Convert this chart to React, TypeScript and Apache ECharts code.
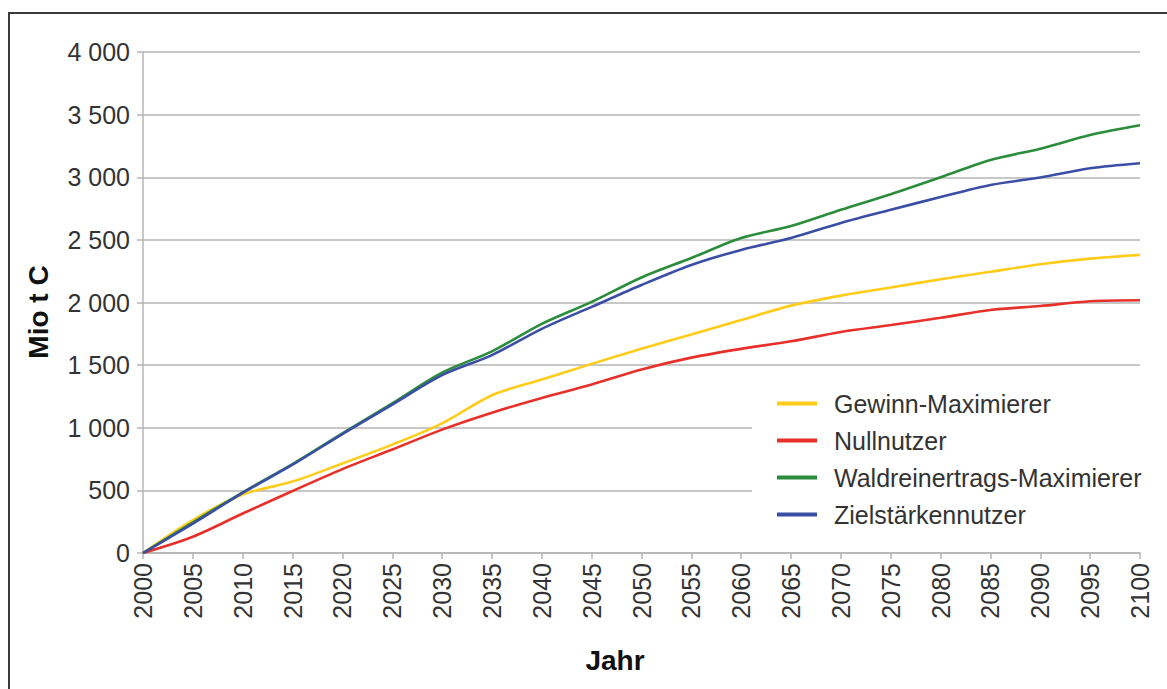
import React, { useEffect, useRef } from "react";
import * as echarts from "echarts";

const years = ["2000","2005","2010","2015","2020","2025","2030","2035","2040","2045","2050","2055","2060","2065","2070","2075","2080","2085","2090","2095","2100"];
const seriesNames = ["Gewinn-Maximierer", "Nullnutzer", "Waldreinertrags-Maximierer", "Zielstärkennutzer"];
const gewinn = [0, 263, 467, 570, 715, 865, 1035, 1260, 1385, 1510, 1630, 1745, 1860, 1975, 2055, 2120, 2185, 2245, 2305, 2350, 2380];
const nullnutzer = [0, 130, 315, 495, 670, 826, 985, 1120, 1238, 1345, 1465, 1560, 1630, 1690, 1765, 1820, 1878, 1940, 1972, 2010, 2018];
const wald = [0, 245, 485, 710, 955, 1195, 1440, 1610, 1830, 2005, 2200, 2355, 2515, 2610, 2740, 2865, 3000, 3138, 3228, 3337, 3415];
const ziel = [0, 235, 480, 705, 950, 1185, 1420, 1580, 1790, 1965, 2140, 2300, 2420, 2515, 2635, 2740, 2842, 2938, 2998, 3072, 3112];
const colors = ["#FFCC1A", "#E8302A", "#2B8C3C", "#3B4EA6"];

const FONT = "'Liberation Sans', Arial, sans-serif";

export default function App() {
  const ref = useRef<HTMLDivElement>(null);
  useEffect(() => {
    if (!ref.current) return;
    const chart = echarts.init(ref.current, null, { renderer: "svg" });
    const dataSets = [gewinn, nullnutzer, wald, ziel];
    chart.setOption({
      animation: false,
      backgroundColor: "#ffffff",
      grid: { left: 143, right: 27, top: 52, bottom: 136, containLabel: false },
      xAxis: {
        type: "category",
        data: years,
        boundaryGap: false,
        axisLine: { lineStyle: { color: "#b4b4b4", width: 1.5 } },
        axisTick: { show: true, length: 6, alignWithLabel: true, lineStyle: { color: "#b4b4b4", width: 1.5 } },
        axisLabel: { rotate: 90, margin: 10, color: "#333", fontSize: 25, fontFamily: FONT, interval: 0 },
        splitLine: { show: false },
      },
      yAxis: {
        type: "value",
        min: 0,
        max: 4000,
        interval: 500,
        axisLine: { show: true, lineStyle: { color: "#b4b4b4", width: 1.5 } },
        axisTick: { show: true, length: 6, lineStyle: { color: "#b4b4b4", width: 1.5 } },
        axisLabel: {
          margin: 13,
          color: "#333",
          fontSize: 25,
          fontFamily: FONT,
          formatter: (v: number) => {
            const s = String(Math.round(v));
            return s.length > 3 ? s.slice(0, s.length - 3) + " " + s.slice(-3) : s;
          },
        },
        splitLine: { show: true, lineStyle: { color: "#b4b4b4", width: 1.5 } },
      },
      legend: {
        orient: "vertical",
        left: 752,
        top: 378,
        padding: [13, 20, 13, 25],
        backgroundColor: "#ffffff",
        itemWidth: 40,
        itemHeight: 4,
        itemGap: 12,
        icon: "rect",
        data: seriesNames,
        textStyle: { fontSize: 25, color: "#333", fontFamily: FONT, padding: [0, 0, 0, 12] },
      },
      series: seriesNames.map((name, i) => ({
        name,
        type: "line",
        data: dataSets[i],
        smooth: 0.3,
        symbol: "none",
        lineStyle: { color: colors[i], width: 2.6 },
        itemStyle: { color: colors[i] },
      })),
      graphic: [
        {
          type: "rect",
          shape: { x: 9, y: 13, width: 1200, height: 700 },
          style: { fill: "none", stroke: "#3a3a3a", lineWidth: 2 },
          silent: true,
          z: 100,
        },
        {
          type: "text",
          x: 38,
          y: 312,
          rotation: Math.PI / 2,
          style: { text: "Mio t C", fontSize: 28, fontWeight: "bold", fontFamily: FONT, fill: "#111", align: "center", verticalAlign: "middle" },
        },
        {
          type: "text",
          x: 615,
          y: 660,
          style: { text: "Jahr", fontSize: 28, fontWeight: "bold", fontFamily: FONT, fill: "#111", align: "center", verticalAlign: "middle" },
        },
      ],
    });
    return () => chart.dispose();
  }, []);
  return <div ref={ref} style={{ position: "fixed", left: 0, top: 0, width: 1167, height: 689 }} />;
}
